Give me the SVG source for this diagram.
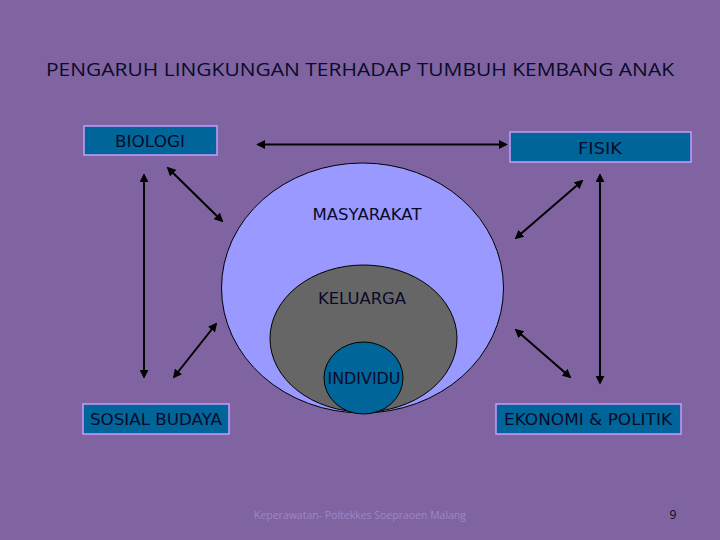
<svg xmlns="http://www.w3.org/2000/svg" width="720" height="540" viewBox="0 0 720 540">
<style>
text{font-family:"DejaVu Sans","Liberation Sans",sans-serif;fill:#0a0a2a;text-anchor:middle}
.box{fill:#006699;stroke:#cc99ff;stroke-width:1.5}
.lbl{font-size:16px}
.os{font-family:"Open Sans","Liberation Sans",sans-serif}
.conn line{stroke:#000;stroke-width:2;marker-start:url(#ah);marker-end:url(#ah)}
</style>
<defs>
<marker id="ah" viewBox="0 0 10 10" refX="8" refY="5" markerWidth="4.5" markerHeight="4.5" orient="auto-start-reverse">
<path d="M0,0 L10,5 L0,10 z" fill="#000"/>
</marker>
</defs>
<rect width="720" height="540" fill="#8064a2"/>
<text class="os" x="360" y="76" font-size="19" textLength="628" lengthAdjust="spacingAndGlyphs">PENGARUH LINGKUNGAN TERHADAP TUMBUH KEMBANG ANAK</text>
<g id="masyarakat">
<ellipse cx="362.5" cy="288" rx="141" ry="125" fill="#9999ff" stroke="#000" stroke-width="1"/>
<text class="lbl" x="367" y="220" textLength="109" lengthAdjust="spacingAndGlyphs">MASYARAKAT</text>
</g>
<g id="keluarga">
<ellipse cx="363.5" cy="338.5" rx="93.5" ry="73.5" fill="#666666" stroke="#000" stroke-width="1"/>
<text class="lbl" x="362" y="304" textLength="88" lengthAdjust="spacingAndGlyphs">KELUARGA</text>
</g>
<g id="individu">
<ellipse cx="363.5" cy="378" rx="39.5" ry="36" fill="#006699" stroke="#000" stroke-width="1"/>
<text class="lbl" x="364" y="384" textLength="73" lengthAdjust="spacingAndGlyphs">INDIVIDU</text>
</g>
<g id="biologi">
<rect class="box" x="84" y="126" width="133" height="29"/>
<text class="lbl" x="150" y="147" textLength="70" lengthAdjust="spacingAndGlyphs">BIOLOGI</text>
</g>
<g id="fisik">
<rect class="box" x="510" y="132" width="181" height="30"/>
<text class="lbl" x="600" y="154" textLength="44" lengthAdjust="spacingAndGlyphs">FISIK</text>
</g>
<g id="sosial-budaya">
<rect class="box" x="83" y="404" width="146" height="30"/>
<text class="lbl" x="156" y="425" textLength="132" lengthAdjust="spacingAndGlyphs">SOSIAL BUDAYA</text>
</g>
<g id="ekonomi-politik">
<rect class="box" x="496" y="404" width="185" height="30"/>
<text class="lbl" x="588" y="425" textLength="168" lengthAdjust="spacingAndGlyphs">EKONOMI &amp; POLITIK</text>
</g>
<g class="conn" id="connectors">
<line x1="258" y1="144.5" x2="506" y2="144.5"/>
<line x1="144" y1="175" x2="144" y2="377"/>
<line x1="168" y1="168" x2="222" y2="221"/>
<line x1="216" y1="324" x2="174" y2="377"/>
<line x1="582" y1="181" x2="516" y2="238"/>
<line x1="600" y1="175" x2="600" y2="383"/>
<line x1="516" y1="330" x2="570" y2="377"/>
</g>
<text class="os" x="360" y="519" font-size="11" style="fill:#9d88c4" textLength="212" lengthAdjust="spacingAndGlyphs">Keperawatan- Poltekkes Soepraoen Malang</text>
<text class="os" x="673" y="519" font-size="12">9</text>
</svg>
